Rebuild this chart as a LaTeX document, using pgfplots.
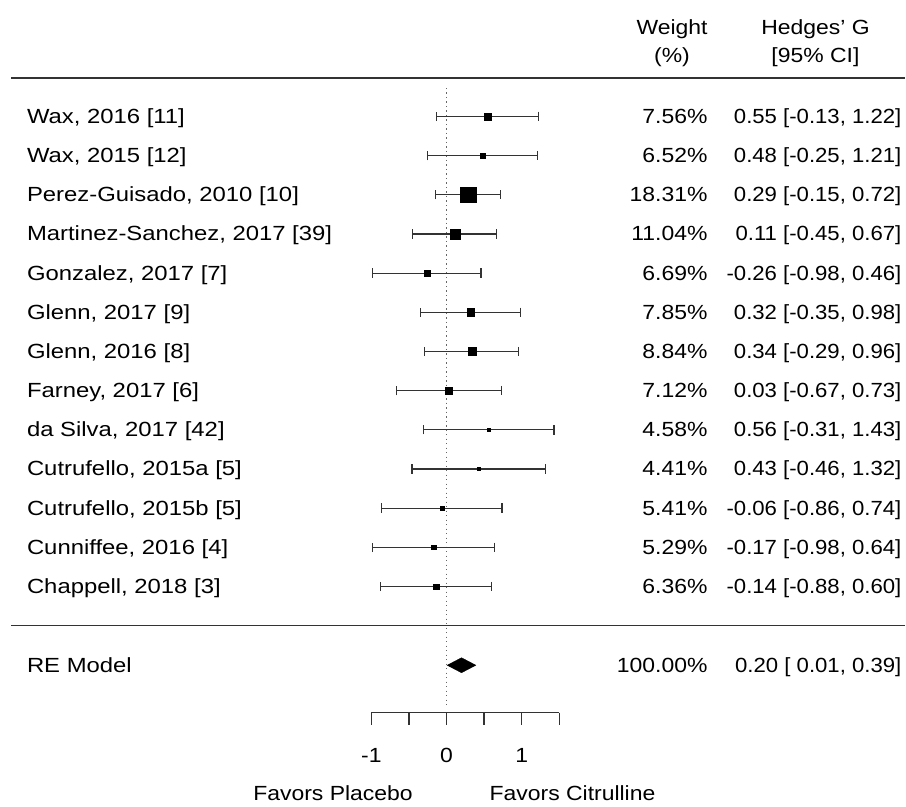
\documentclass[border=0pt]{standalone}
\usepackage{pgfplots}
\pgfplotsset{compat=1.18}
\usepackage{pgfplotstable}
\usepackage{fontspec}
\setmainfont{Liberation Sans}[FakeStretch=1.12]

% y = row position (pixels from top), est, lower, upper, square side (px)
\pgfplotstableread{
y est lo hi s
116.5 0.55 -0.13 1.22 7.3
155.7 0.48 -0.25 1.21 6.1
194.9 0.29 -0.15 0.72 16
234.1 0.11 -0.45 0.67 10.5
273.3 -0.26 -0.98 0.46 6.3
312.5 0.32 -0.35 0.98 7.6
351.7 0.34 -0.29 0.96 8.6
390.9 0.03 -0.67 0.73 6.7
430.1 0.56 -0.31 1.43 3.8
469.3 0.43 -0.46 1.32 3.5
508.5 -0.06 -0.86 0.74 4.8
547.7 -0.17 -0.98 0.64 4.7
586.9 -0.14 -0.88 0.60 5.9
}\studies

\newcommand\rowtext[4]{%
  \node[anchor=base west] at (axis cs:-5.582,#1) {\scalebox{1.04}[1]{#2}};
  \node[anchor=base east] at (axis cs:3.473,#1) {#3};
  \node[anchor=base east] at (axis cs:6.053,#1) {\scalebox{0.965}[1]{#4}};
}
\newcommand\hedges{Hedges{\char"2019} G}

\begin{document}
\begin{tikzpicture}[font=\fontsize{20.5}{24}\selectfont, every node/.style={inner sep=0pt, outer sep=0pt}]
\begin{axis}[
  scale only axis, width=906pt, height=807pt,
  xmin=-5.9415, xmax=6.1064, ymin=0, ymax=807, y dir=reverse,
  hide axis, clip=false,
]
\path (rel axis cs:0,0) rectangle (rel axis cs:1,1);

% separators
\draw[black!80, line width=1.3pt] (axis cs:-5.795,78) -- (axis cs:6.1064,78);
\draw[black!80, line width=1.3pt] (axis cs:-5.795,626) -- (axis cs:6.1064,626);
% reference line
\draw[black!60, line width=1.3pt, dash pattern=on 1.3pt off 3.2pt] (axis cs:0,88) -- (axis cs:0,706);

% CIs
\addplot[draw=none, mark=none,
  error bars/.cd, x dir=both, x explicit, error mark=|,
  error bar style={black!80, line width=1.2pt},
  error mark options={black!80, line width=1.2pt, mark size=4.7pt}]
  table[x=est, y=y,
    x error plus expr=\thisrow{hi}-\thisrow{est},
    x error minus expr=\thisrow{est}-\thisrow{lo}] {\studies};

% squares
\addplot[scatter, only marks, mark=square*,
  scatter/use mapped color={draw=black, fill=black},
  visualization depends on={\thisrow{s}/2-0.2 \as \ms},
  scatter/@pre marker code/.append style={/tikz/mark size=\ms}]
  table[x=est, y=y] {\studies};

% RE model diamond
\addplot[fill=black, draw=black, line width=0.4pt] coordinates {(0.01,665.7) (0.20,658.2) (0.39,665.7) (0.20,673.2)} -- cycle;

% headers
\node[anchor=base] at (axis cs:3.001,35) {Weight};
\node[anchor=base] at (axis cs:3.001,63) {(\%)};
\node[anchor=base] at (axis cs:4.910,35) {\hedges};
\node[anchor=base] at (axis cs:4.910,63) {[95\% CI]};

\rowtext{123.5}{Wax, 2016 [11]}{7.56\%}{0.55 [-0.13, 1.22]}
\rowtext{162.7}{Wax, 2015 [12]}{6.52\%}{0.48 [-0.25, 1.21]}
\rowtext{201.9}{Perez-Guisado, 2010 [10]}{18.31\%}{0.29 [-0.15, 0.72]}
\rowtext{241.1}{Martinez-Sanchez, 2017 [39]}{11.04\%}{0.11 [-0.45, 0.67]}
\rowtext{280.3}{Gonzalez, 2017 [7]}{6.69\%}{-0.26 [-0.98, 0.46]}
\rowtext{319.5}{Glenn, 2017 [9]}{7.85\%}{0.32 [-0.35, 0.98]}
\rowtext{358.7}{Glenn, 2016 [8]}{8.84\%}{0.34 [-0.29, 0.96]}
\rowtext{397.9}{Farney, 2017 [6]}{7.12\%}{0.03 [-0.67, 0.73]}
\rowtext{437.1}{da Silva, 2017 [42]}{4.58\%}{0.56 [-0.31, 1.43]}
\rowtext{476.3}{Cutrufello, 2015a [5]}{4.41\%}{0.43 [-0.46, 1.32]}
\rowtext{515.5}{Cutrufello, 2015b [5]}{5.41\%}{-0.06 [-0.86, 0.74]}
\rowtext{554.7}{Cunniffee, 2016 [4]}{5.29\%}{-0.17 [-0.98, 0.64]}
\rowtext{593.9}{Chappell, 2018 [3]}{6.36\%}{-0.14 [-0.88, 0.60]}
\rowtext{672.7}{RE Model}{100.00\%}{0.20 [ 0.01, 0.39]}

% bottom scale
\draw[black!80, line width=1.2pt] (axis cs:-1,713) -- (axis cs:1.5,713);
\pgfplotsinvokeforeach{-1,-0.5,0,0.5,1,1.5}{
  \draw[black!80, line width=1.2pt] (axis cs:#1,713) -- (axis cs:#1,726);
}
\node[anchor=base] at (axis cs:-1,763) {-1};
\node[anchor=base] at (axis cs:0,763) {0};
\node[anchor=base] at (axis cs:1,763) {1};
\node[anchor=base east] at (axis cs:-0.449,801) {Favors Placebo};
\node[anchor=base west] at (axis cs:0.574,801) {Favors Citrulline};
\end{axis}
\end{tikzpicture}
\end{document}
